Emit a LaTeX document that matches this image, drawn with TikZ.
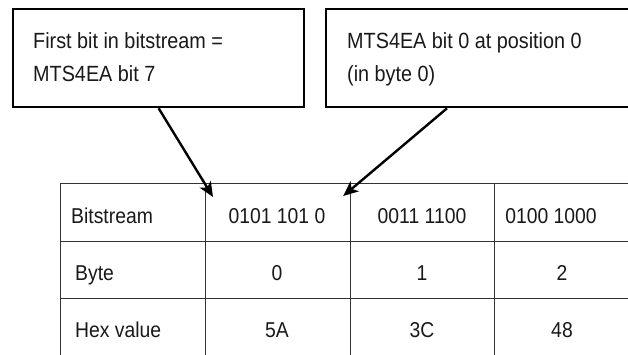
\documentclass[tikz,border=0pt]{standalone}
\usepackage{fontspec}
\setmainfont{Liberation Sans}[FakeStretch=0.9]
\usetikzlibrary{arrows.meta,calc}
\begin{document}
\begin{tikzpicture}[x=1pt,y=-1pt,
  callout/.style={draw=black,line width=2.3pt,fill=white,inner sep=0pt,anchor=north west},
  cell/.style={draw=black!80,line width=1.2pt,inner sep=0pt,anchor=north west,minimum height=58pt},
  txt/.style={font=\fontsize{21.5}{24}\selectfont,text=black!90,inner sep=0pt},
  btxt/.style={font=\fontsize{22}{24}\selectfont,text=black!90,inner sep=0pt},
  pointer/.style={line width=2.4pt,-{Stealth[length=15pt,width=13pt,inset=4pt]}}]
\useasboundingbox[fill=white] (0,0) rectangle (628,354);
% callout boxes
\node[callout,minimum width=291pt,minimum height=98pt] (box1) at (12,8) {};
\node[callout,minimum width=320pt,minimum height=98pt] (box2) at (325,8) {};
\node[btxt,anchor=base west] (t1a) at (33,48) {First bit in bitstream =};
\node[btxt,anchor=base west] (t1b) at (33,81) {MTS4EA bit 7};
\node[btxt,anchor=base west] (t2a) at (347,48) {MTS4EA bit 0 at position 0};
\node[btxt,anchor=base west] (t2b) at (347,81) {(in byte 0)};
% table cells
\foreach \r/\y/\h in {1/183/58,2/241/57,3/298/62}{
  \node[cell,minimum width=145pt,minimum height=\h pt] (c\r0) at (60,\y) {};
  \node[cell,minimum width=145pt,minimum height=\h pt] (c\r1) at (205,\y) {};
  \node[cell,minimum width=144pt,minimum height=\h pt] (c\r2) at (350,\y) {};
  \node[cell,minimum width=150pt,minimum height=\h pt] (c\r3) at (494,\y) {};
}
% table texts
\node[txt,anchor=base west] (h1) at (71,223) {Bitstream};
\node[txt,anchor=base west] (h2) at (75,280) {Byte};
\node[txt,anchor=base west] (h3) at (75,337) {Hex value};
\node[txt,anchor=base] (v11) at (277,223) {0101 101 0};
\node[txt,anchor=base] (v12) at (422,223) {0011 1100};
\node[txt,anchor=base] (v13) at (551,223) {0100 1000};
\node[txt,anchor=base] (v21) at (277,280) {0};
\node[txt,anchor=base] (v22) at (422,280) {1};
\node[txt,anchor=base] (v23) at (562,280) {2};
\node[txt,anchor=base] (v31) at (277,337) {5A};
\node[txt,anchor=base] (v32) at (422,337) {3C};
\node[txt,anchor=base] (v33) at (562,337) {48};
% arrows
\coordinate (tip1) at ($(c11.north west)+(8,14)$);
\coordinate (tip2) at ($(c11.north east)+(-8,13)$);
\coordinate (src2) at ($(box2.south west)+(122,0)$);
\draw[pointer] (box1.south) -- (tip1);
\draw[pointer] (src2) -- (tip2);
\end{tikzpicture}
\end{document}
